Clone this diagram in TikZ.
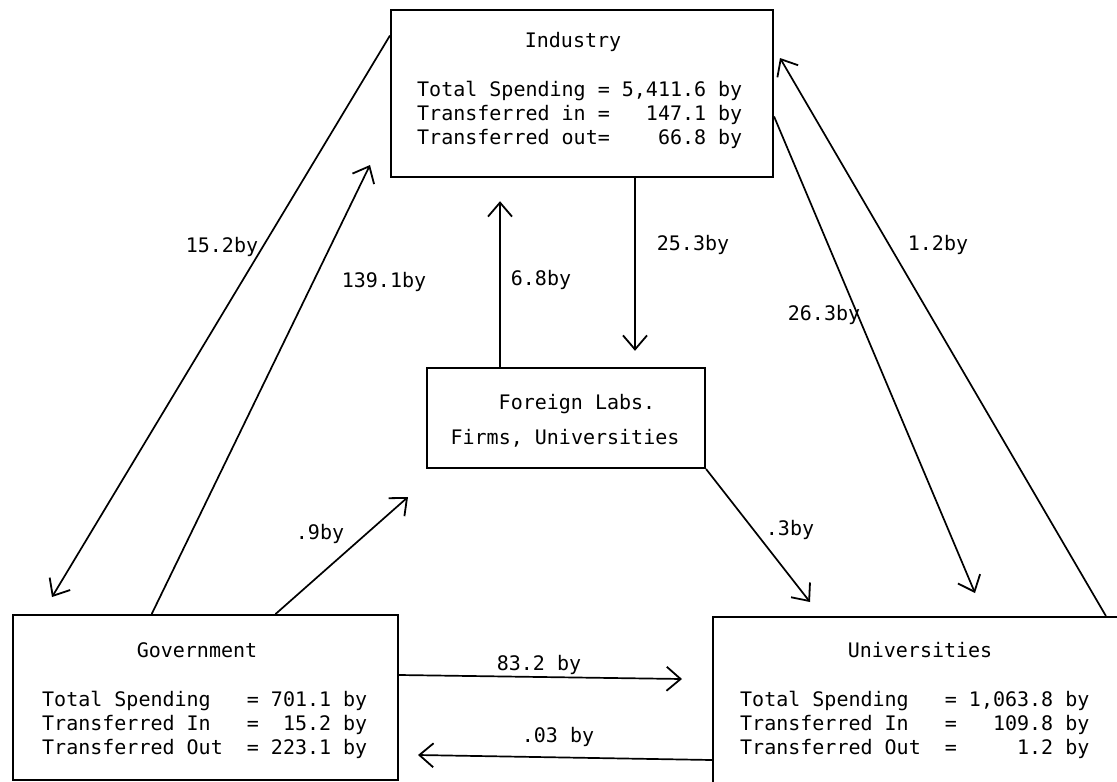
\documentclass[tikz,border=0pt]{standalone}
\usepackage{fontspec}
\setmainfont{DejaVu Sans Mono}
\usetikzlibrary{arrows.meta}
\begin{document}
\begin{tikzpicture}[x=1pt,y=-1pt,
  box/.style={draw, line width=2.4pt, inner sep=0pt},
  txt/.style={font=\fontsize{20}{24}\selectfont, inner sep=0pt},
  body/.style={txt, align=left, anchor=west},
  ttl/.style={txt, anchor=base},
  lbl/.style={txt, anchor=base},
  flow/.style={line width=1.7pt, line cap=round, -{Straight Barb[length=14pt,width=24pt,line width=1.8pt]}}]
\useasboundingbox[fill=white] (0,0) rectangle (1117,782);

% boxes
\node[box, minimum width=382pt, minimum height=167pt] (ind) at (582,93.5) {};
\node[box, minimum width=385pt, minimum height=165pt] (gov) at (205.5,697.5) {};
\node[box, minimum width=414pt, minimum height=170pt] (univ) at (920,702) {};
\node[box, minimum width=278pt, minimum height=100pt] (for) at (566,418) {};

% box texts
\node[ttl] (indt) at (573,47) {Industry};
\node[body] (indb) at (417,115) {Total~Spending~=~5,411.6~by\\Transferred~in~=~~~147.1~by\\Transferred~out=~~~~66.8~by};
\node[ttl] (govt) at (197,657) {Government};
\node[body] (govb) at (42,725) {Total~Spending~~~=~701.1~by\\Transferred~In~~~=~~15.2~by\\Transferred~Out~~=~223.1~by};
\node[ttl] (univt) at (920,657) {Universities};
\node[body] (univb) at (740,725) {Total~Spending~~~=~1,063.8~by\\Transferred~In~~~=~~~109.8~by\\Transferred~Out~~=~~~~~1.2~by};
\node[ttl] (fort1) at (577,409) {Foreign~Labs.};
\node[ttl] (fort2) at (565,444) {Firms,~Universities};

% free arrow tips
\coordinate (t15) at (52,597);
\coordinate (t139) at (370,165);
\coordinate (t26) at (975,593);
\coordinate (t12) at (780,58);
\coordinate (t09) at (408,497);
\coordinate (t03) at (810,602);
\coordinate (t83) at (682,679);
\coordinate (t003) at (418,755);

% connectors
\draw[flow] ([yshift=-27pt]ind.north west) -- (t15);
\draw[flow] ([xshift=140pt]gov.north west) -- (t139);
\draw[flow, shorten >=23pt] ([xshift=-66pt]for.north) -- ([xshift=-82pt]ind.south);
\draw[flow, shorten >=16pt] ([xshift=53pt]ind.south) -- ([xshift=69pt]for.north);
\draw[flow] ([yshift=-108pt]ind.north east) -- (t26);
\draw[flow] ([xshift=394pt]univ.north west) -- (t12);
\draw[flow] ([xshift=264pt]gov.north west) -- (t09);
\draw[flow] (for.south east) -- (t03);
\draw[flow] ([yshift=22.5pt]gov.east) -- (t83);
\draw[flow] ([yshift=-58pt]univ.west) -- (t003);

% labels
\node[lbl] (l15) at (222,252) {15.2by};
\node[lbl] (l139) at (384,287) {139.1by};
\node[lbl] (l68) at (541,285) {6.8by};
\node[lbl] (l253) at (693,250) {25.3by};
\node[lbl] (l263) at (824,320) {26.3by};
\node[lbl] (l12) at (938,250) {1.2by};
\node[lbl] (l09) at (320,539) {.9by};
\node[lbl] (l03) at (790,535) {.3by};
\node[lbl] (l832) at (539,670) {83.2~by};
\node[lbl] (l003) at (558,742) {.03~by};
\end{tikzpicture}
\end{document}
